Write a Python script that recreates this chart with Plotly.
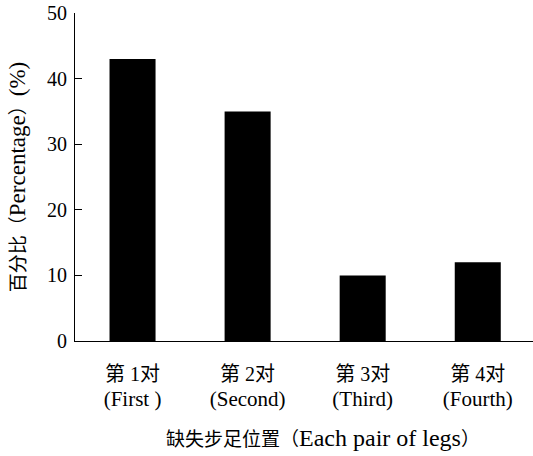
import plotly.graph_objects as go

# Share of missing walking legs by pair position
cjk_labels = ["第 1对", "第 2对", "第 3对", "第 4对"]
en_labels = ["(First )", "(Second)", "(Third)", "(Fourth)"]
percentages = [43, 35, 10, 12]
y_ticks = [0, 10, 20, 30, 40, 50]

FONT = "Liberation Serif, Times New Roman, Noto Sans CJK SC, serif"


def sized(text, size):
    return f'<span style="font-size:{size}px">{text}</span>'


categories = [f"{sized(c, 20)}<br>{sized(e, 21)}" for c, e in zip(cjk_labels, en_labels)]

fig = go.Figure(
    go.Bar(
        x=list(range(len(categories))),
        y=percentages,
        width=0.4,
        marker=dict(color="black", line=dict(width=0)),
    )
)

fig.update_layout(
    width=533,
    height=456,
    margin=dict(l=75, r=0, t=13, b=115),
    paper_bgcolor="white",
    plot_bgcolor="white",
    showlegend=False,
    font=dict(family=FONT, color="black"),
    xaxis=dict(
        range=[-0.5, 3.48],
        tickmode="array",
        tickvals=list(range(len(categories))),
        ticktext=categories,
        ticks="",
        showgrid=False,
        zeroline=False,
        showline=True,
        linecolor="black",
        linewidth=1.2,
        tickfont=dict(size=19),
        ticklabelstandoff=16,
    ),
    yaxis=dict(
        range=[0, 50],
        tickvals=y_ticks,
        ticks="inside",
        ticklen=7,
        tickcolor="black",
        showgrid=False,
        zeroline=False,
        showline=True,
        linecolor="black",
        linewidth=1.2,
        tickfont=dict(size=20),
        ticklabelstandoff=3,
        title=dict(
            text="百分比（" + sized("Percentage", 23) + "）" + sized("(%)", 23),
            font=dict(size=19),
            standoff=16,
        ),
    ),
    annotations=[
        dict(
            text="缺失步足位置（" + sized("Each pair of legs", 24) + "）",
            xref="paper", yref="paper",
            x=(323 - 75) / 458, y=-0.295,
            xanchor="center", yanchor="middle",
            showarrow=False,
            font=dict(size=19, family=FONT),
        )
    ],
)

fig.write_html("out.html")
